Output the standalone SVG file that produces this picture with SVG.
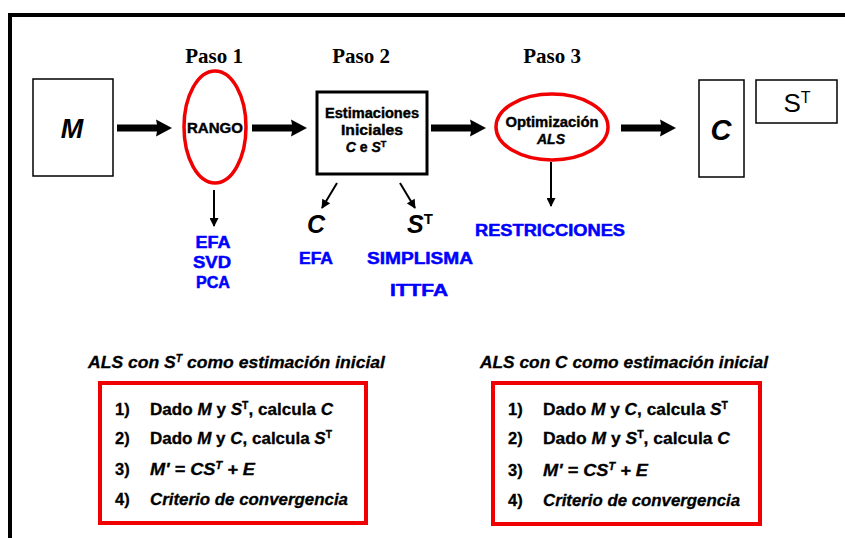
<svg xmlns="http://www.w3.org/2000/svg" width="845" height="538" viewBox="0 0 845 538">
<defs>
<style>
.paso{font-family:"Liberation Serif","Times New Roman",serif;font-weight:bold;font-size:21px;fill:#000;text-anchor:middle}
.nt{font-family:"Liberation Sans",Arial,sans-serif;font-weight:bold;font-size:14px;fill:#000;stroke:#000;stroke-width:0.4;text-anchor:middle}
.blue{font-family:"Liberation Sans",Arial,sans-serif;font-weight:bold;font-size:16px;fill:#0000ff;stroke:#0000ff;stroke-width:0.5;text-anchor:middle}
.var{font-family:"Liberation Sans",Arial,sans-serif;font-weight:bold;font-style:italic;fill:#000;text-anchor:middle}
.ln{font-family:"Liberation Sans",Arial,sans-serif;font-weight:bold;font-size:16.5px;fill:#000;stroke:#000;stroke-width:0.3}
.ttl{font-family:"Liberation Sans",Arial,sans-serif;font-weight:bold;font-style:italic;font-size:17px;fill:#000;stroke:#000;stroke-width:0.3}
.it{font-style:italic}
.box{fill:#fff;stroke:#000;stroke-width:1.5}
.red{fill:none;stroke:#f00000;stroke-width:3.5}
.redb{fill:none;stroke:#f00000;stroke-width:4}
.thin{stroke:#000;stroke-width:2;fill:none;marker-end:url(#ah)}
</style>
<marker id="ah" viewBox="0 0 10 10" refX="9" refY="5" markerWidth="10" markerHeight="9" markerUnits="userSpaceOnUse" orient="auto">
<path d="M0,0 L10,5 L0,10 z" fill="#000"/>
</marker>
<path id="big" d="M0,-3.5 L40,-3.5 L39,-8.5 L55,0 L39,8.5 L40,3.5 L0,3.5 z" fill="#000"/>
</defs>
<rect x="0" y="0" width="845" height="538" fill="#fff"/>
<g id="frame">
<line x1="8" y1="15" x2="845" y2="15" stroke="#000" stroke-width="4"/>
<line x1="10" y1="13" x2="10" y2="538" stroke="#000" stroke-width="4"/>
</g>
<g id="pasos">
<text class="paso" x="214" y="63">Paso 1</text>
<text class="paso" x="361" y="63">Paso 2</text>
<text class="paso" x="552" y="63">Paso 3</text>
</g>
<g id="node-M">
<rect class="box" x="33" y="79" width="80" height="97"/>
<text class="var" x="72" y="138" font-size="27">M</text>
</g>
<g id="node-rango">
<ellipse class="red" cx="215" cy="127" rx="31" ry="56"/>
<text class="nt" x="215" y="133" font-size="12" textLength="56" lengthAdjust="spacingAndGlyphs">RANGO</text>
</g>
<g id="node-estimaciones">
<rect x="317" y="92" width="110" height="82" fill="#fff" stroke="#000" stroke-width="3"/>
<text class="nt" x="372" y="118" textLength="94" lengthAdjust="spacingAndGlyphs">Estimaciones</text>
<text class="nt" x="372" y="135" textLength="62" lengthAdjust="spacingAndGlyphs">Iniciales</text>
<text class="nt" x="366" y="152"><tspan class="it">C</tspan> e <tspan class="it">S</tspan><tspan font-size="9" dy="-5">T</tspan></text>
</g>
<g id="node-optimizacion">
<ellipse class="red" cx="552" cy="127" rx="56" ry="33"/>
<text class="nt" x="552" y="127" textLength="93" lengthAdjust="spacingAndGlyphs">Optimización</text>
<text class="nt it" x="551" y="144">ALS</text>
</g>
<g id="node-C">
<rect class="box" x="699" y="80" width="45" height="97"/>
<text class="var" x="721" y="140" font-size="29">C</text>
</g>
<g id="node-ST">
<rect class="box" x="756" y="80" width="81" height="43"/>
<text x="797" y="112" font-family="Liberation Sans, Arial, sans-serif" font-size="26" text-anchor="middle">S<tspan font-size="16" dy="-9">T</tspan></text>
</g>
<g id="labels-C-ST">
<text class="var" x="316" y="233" font-size="25">C</text>
<text class="var" x="420" y="233" font-size="25">S<tspan font-size="15" font-style="normal" dy="-9">T</tspan></text>
</g>
<g id="methods">
<text class="blue" x="213" y="248" textLength="35" lengthAdjust="spacingAndGlyphs">EFA</text>
<text class="blue" x="212" y="268" textLength="38" lengthAdjust="spacingAndGlyphs">SVD</text>
<text class="blue" x="213" y="288" textLength="34" lengthAdjust="spacingAndGlyphs">PCA</text>
<text class="blue" x="316" y="264" textLength="34" lengthAdjust="spacingAndGlyphs">EFA</text>
<text class="blue" x="420" y="264" textLength="106" lengthAdjust="spacingAndGlyphs">SIMPLISMA</text>
<text class="blue" x="419" y="296" textLength="58" lengthAdjust="spacingAndGlyphs">ITTFA</text>
<text class="blue" x="550" y="236" textLength="150" lengthAdjust="spacingAndGlyphs">RESTRICCIONES</text>
</g>
<g id="connectors">
<use href="#big" x="117" y="128"/>
<use href="#big" x="252" y="128"/>
<use href="#big" x="431" y="128"/>
<use href="#big" x="621" y="128"/>
<line class="thin" x1="214" y1="190" x2="214" y2="226"/>
<line class="thin" x1="337" y1="183" x2="322" y2="208"/>
<line class="thin" x1="400" y1="183" x2="415" y2="208"/>
<line class="thin" x1="551" y1="162" x2="551" y2="206"/>
</g>
<g id="als-ST">
<text class="ttl" x="88" y="368" textLength="297" lengthAdjust="spacingAndGlyphs">ALS con S<tspan font-size="10" dy="-6">T</tspan><tspan dy="6"> como estimación inicial</tspan></text>
<rect class="redb" x="100" y="383" width="266" height="140"/>
<text class="ln" x="115" y="415">1)</text>
<text class="ln" x="150" y="415" textLength="183" lengthAdjust="spacingAndGlyphs">Dado <tspan class="it">M</tspan> y <tspan class="it">S</tspan><tspan font-size="10" dy="-6">T</tspan><tspan dy="6">, calcula </tspan><tspan class="it">C</tspan></text>
<text class="ln" x="115" y="444">2)</text>
<text class="ln" x="150" y="444" textLength="182" lengthAdjust="spacingAndGlyphs">Dado <tspan class="it">M</tspan> y <tspan class="it">C</tspan>, calcula <tspan class="it">S</tspan><tspan font-size="10" dy="-6">T</tspan></text>
<text class="ln" x="115" y="475">3)</text>
<text class="ln it" x="150" y="475" textLength="105" lengthAdjust="spacingAndGlyphs">M' = CS<tspan font-size="10" dy="-6">T</tspan><tspan dy="6"> + E</tspan></text>
<text class="ln" x="115" y="505">4)</text>
<text class="ln it" x="150" y="505" textLength="198" lengthAdjust="spacingAndGlyphs">Criterio de convergencia</text>
</g>
<g id="als-C">
<text class="ttl" x="480" y="368" textLength="288" lengthAdjust="spacingAndGlyphs">ALS con C como estimación inicial</text>
<rect class="redb" x="493" y="383" width="267" height="141"/>
<text class="ln" x="508" y="415">1)</text>
<text class="ln" x="543" y="415" textLength="185" lengthAdjust="spacingAndGlyphs">Dado <tspan class="it">M</tspan> y <tspan class="it">C</tspan>, calcula <tspan class="it">S</tspan><tspan font-size="10" dy="-6">T</tspan></text>
<text class="ln" x="508" y="444">2)</text>
<text class="ln" x="543" y="444" textLength="187" lengthAdjust="spacingAndGlyphs">Dado <tspan class="it">M</tspan> y <tspan class="it">S</tspan><tspan font-size="10" dy="-6">T</tspan><tspan dy="6">, calcula </tspan><tspan class="it">C</tspan></text>
<text class="ln" x="508" y="476">3)</text>
<text class="ln it" x="543" y="476" textLength="105" lengthAdjust="spacingAndGlyphs">M' = CS<tspan font-size="10" dy="-6">T</tspan><tspan dy="6"> + E</tspan></text>
<text class="ln" x="508" y="506">4)</text>
<text class="ln it" x="543" y="506" textLength="197" lengthAdjust="spacingAndGlyphs">Criterio de convergencia</text>
</g>
</svg>
